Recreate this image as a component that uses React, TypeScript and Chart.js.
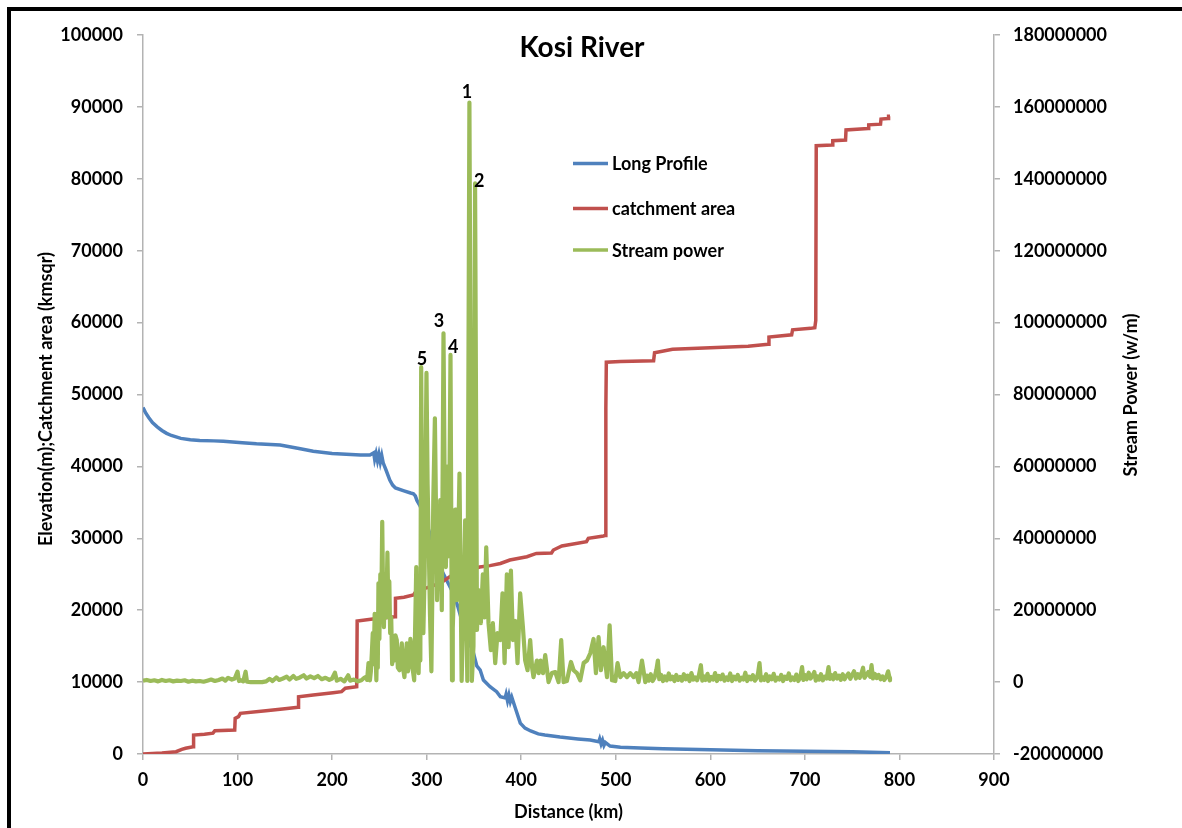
import React, { useEffect, useRef } from "react";
import { Chart, registerables } from "chart.js";

Chart.register(...registerables);

// ---------- DATA ----------
const chartTitle = "Kosi River";
const xAxisTitle = "Distance (km)";
const leftAxisTitle = "Elevation(m);Catchment area (kmsqr)";
const rightAxisTitle = "Stream Power (w/m)";
const seriesNames = ["Long Profile", "catchment area", "Stream power"];

const xTicks = { min: 0, max: 900, step: 100 };
const leftTicks = { min: 0, max: 100000, step: 10000 };
const rightTicks = { min: -20000000, max: 180000000, step: 20000000 };

// Long profile (elevation)
const profileDistance = [
  0, 3, 6, 10, 15, 20, 25, 30, 40, 50, 60, 75, 85, 95, 105, 120, 145, 165, 180, 200, 215, 230, 240,
  244, 245, 246.5, 248, 249.5, 251, 252.5, 254, 257, 261, 264, 267, 276, 283, 286, 288, 289.6,
  293, 296.5, 301, 305.5, 310, 314, 321, 328, 333, 337, 343, 349.5, 353, 356.6, 360, 367, 374, 378,
  383, 384, 385.5, 387, 388.5, 390, 394, 399, 404, 410, 418, 425, 441, 460, 473, 482, 483, 484.5,
  486, 487.5, 489, 494, 505, 526, 550, 600, 650, 700, 750, 790,
];
const profileElevation = [
  48200, 47400, 46800, 46100, 45500, 45000, 44600, 44300, 43900, 43700, 43600, 43550, 43500, 43400,
  43300, 43150, 42980, 42500, 42100, 41800, 41680, 41600, 41600, 41900, 41000, 41800, 40800, 41700,
  40600, 41500, 40500, 39500, 38100, 37400, 37000, 36600, 36300, 36200, 35900, 35300, 34500,
  33500, 31600, 29760, 27900, 26050, 24200, 22400, 20500, 18640, 16300, 14050, 12240, 11680, 10290,
  9360, 8670, 7970, 7800, 8300, 7400, 8200, 7300, 7900, 6300, 4300, 3600, 3200, 2800, 2640, 2360,
  2100, 1950, 1700, 2100, 1400, 1900, 1200, 1600, 1100, 950, 830, 720, 580, 450, 380, 300, 180,
];

// Catchment area
const catchmentDistance = [
  0, 20, 35, 41, 45, 53, 53.5, 65, 74, 76, 97, 97.5, 101, 103, 130, 150, 164, 164.5, 180, 201, 210,
  214, 226, 226.5, 245, 266.7, 267, 276, 286, 289.6, 300, 315, 328, 340, 356, 367, 378, 388, 406,
  416, 432, 434, 443, 469, 471, 487, 489, 489.5, 490, 505, 540, 541, 560, 600, 640, 661, 662, 686,
  687, 706, 710.5, 711.5, 712, 729, 729.5, 743, 743.5, 767, 767.5, 780, 780.5, 788, 788.5, 790,
];
const catchmentArea = [
  0, 150, 320, 650, 800, 1000, 2640, 2750, 2900, 3250, 3340, 4960, 5200, 5660, 6000, 6300, 6500,
  7970, 8200, 8530, 8670, 9150, 9360, 18500, 18800, 19100, 21650, 21800, 22110, 22800, 23100,
  23800, 25000, 25400, 26000, 26200, 26500, 26980, 27440, 27900, 27950, 28370, 28930, 29530, 30000,
  30320, 30400, 48000, 54500, 54600, 54700, 55800, 56300, 56500, 56700, 57000, 58000, 58300, 59000,
  59200, 59300, 60300, 84600, 84700, 85300, 85400, 86800, 87000, 87500, 87600, 88300, 88400, 88700,
  88700,
];

// Stream power (w/m) — distances and values, 10 per line, lines aligned
const powerDistance = [
  0, 4, 8, 12, 16, 20, 24, 28, 32, 36,
  40, 44, 48, 52, 56, 60, 64, 68, 72, 76,
  80, 84, 87, 90, 94, 97, 100, 101.5, 104, 106,
  108.5, 110, 114, 120, 126, 130, 134, 137, 141, 144,
  148, 152, 155, 159, 162, 166, 170, 173, 177, 181,
  185, 189, 193, 197, 200, 203, 205, 209, 213, 217,
  219, 223, 227, 231, 234, 236, 237, 238.5, 240, 241,
  242, 243, 244, 245, 246, 246.8, 247.5, 248.3, 249, 250,
  251, 252, 253, 254, 254.8, 255.5, 256.3, 257.2, 258.5, 259.5,
  260.5, 261.4, 262.5, 263.5, 264.9, 266, 267, 268.4, 269.5, 271.2,
  272.5, 273.7, 275, 276.5, 277.8, 279, 280.2, 281.5, 282.8, 284,
  285.5, 286.8, 287.8, 289, 290.2, 291.5, 292.5, 293.3, 294.2, 295.3,
  296.5, 297.8, 299.8, 301, 302, 303.5, 305, 306, 307, 308.7,
  310, 311, 312.5, 313.4, 314.3, 316, 317.8, 319, 320.3, 321.4,
  322.4, 323.5, 325.2, 326.8, 327.6, 328.5, 330.2, 331, 332, 333.5,
  334.7, 336, 337, 338, 339, 340.7, 342, 343, 345.2, 347.8,
  349.5, 351.2, 353.2, 354.8, 357.3, 359.4, 361.2, 363, 365.4, 367.9,
  370, 372.5, 374.9, 377.8, 380.2, 382.4, 384.8, 386.6, 389.1, 391.2,
  393.7, 396.1, 398.9, 401.8, 404.2, 406.7, 409.5, 411.5, 413, 416.6,
  418.5, 420.5, 423, 425.4, 428.9, 432.4, 436, 439.5, 442.3, 444.8,
  448.3, 452.6, 455.4, 458.9, 462.4, 466, 469.5, 473, 476.5, 479,
  481.8, 484.3, 487.1, 490.7, 493.5, 496, 499.5, 501.9, 504.8, 508.3,
  511.8, 515.3, 518.9, 521.7, 524.1, 527.7, 531.2, 533, 535, 537,
  539, 541, 543, 544.5, 546, 548, 550, 552, 554, 556,
  558, 560, 562, 564, 566, 568, 570, 572, 574, 576,
  578, 580, 582, 584, 586, 588, 590, 591.5, 593, 595,
  597, 599, 601, 603, 605, 607, 609, 611, 613, 615,
  617, 619, 621, 623, 625, 627, 629, 631, 633, 635,
  637, 639, 641, 643, 645, 647, 649, 650.5, 652, 653.5,
  655, 657, 659, 661, 663, 665, 667, 669, 671, 673,
  675, 677, 679, 681, 683, 685, 687, 689, 691, 693,
  695, 697, 698.5, 700, 702, 704, 706, 708, 710, 711.5,
  713, 715, 717, 719, 721, 723, 725, 726.5, 728, 730,
  732, 734, 736, 738, 740, 742, 744, 746, 748, 750,
  752, 754, 756, 758, 760, 761.5, 763, 765, 767, 769,
  770.5, 772, 774, 776, 778, 780, 782, 784, 786, 788,
  789.5, 790,
];
const streamPower = [
  0.4e6, 0.6e6, 0.3e6, 0.5e6, 0.2e6, 0.6e6, 0.3e6, 0.5e6, 0.2e6, 0.4e6,
  0.3e6, 0.5e6, 0.1e6, 0.4e6, 0.2e6, 0.3e6, 0.1e6, 0.4e6, 0.7e6, 0.3e6,
  0.6e6, 1.0e6, 0.4e6, 1.2e6, 0.7e6, 1.0e6, 2.9e6, 0.3e6, 0.5e6, 0.2e6,
  2.9e6, 0.1e6, 0, 0, 0, 0.2e6, 0.9e6, 0.3e6, 1.3e6, 0.6e6,
  1.0e6, 1.5e6, 0.7e6, 1.7e6, 0.9e6, 1.3e6, 1.9e6, 1.0e6, 1.6e6, 1.1e6,
  1.7e6, 0.8e6, 1.2e6, 0.6e6, 1.0e6, 2.6e6, 0.4e6, 0.9e6, 0.2e6, 1.9e6,
  0.4e6, 0.7e6, 0.2e6, 0.5e6, 1.2e6, 1.5e6, 0.6e6, 5.3e6, 0.5e6, 3e6,
  8e6, 13.6e6, 5e6, 19e6, 8e6, 0.5e6, 10e6, 4e6, 27.5e6, 12e6,
  30e6, 20e6, 44.6e6, 22e6, 15.3e6, 26e6, 30e6, 18e6, 36e6, 20e6,
  28e6, 13.6e6, 18e6, 5e6, 8.9e6, 6e6, 13e6, 11.7e6, 4e6, 3.3e6,
  8e6, 10.8e6, 4e6, 1.4e6, 7e6, 10.8e6, 3e6, 4.7e6, 12e6, 9.7e6,
  3e6, 0.5e6, 15e6, 32e6, 10e6, 2.5e6, 18e6, 6e6, 87.6e6, 40e6,
  13.6e6, 30e6, 86e6, 55e6, 41e6, 19e6, 3e6, 25e6, 50.6e6, 73.4e6,
  45e6, 22.8e6, 40e6, 30e6, 50.6e6, 20e6, 97e6, 55e6, 32e6, 45e6,
  60e6, 35e6, 91e6, 0.5e6, 15e6, 22.8e6, 48e6, 30e6, 22.8e6, 40e6,
  58e6, 25e6, 0.3e6, 12e6, 20e6, 45e6, 20e6, 0.3e6, 161.2e6, 0.3e6,
  10e6, 138.7e6, 14.5e6, 25.6e6, 16.4e6, 30e6, 18e6, 37.5e6, 16.4e6, 8.9e6,
  16.4e6, 5.3e6, 13.6e6, 11.7e6, 24.7e6, 5.3e6, 30e6, 9.7e6, 31e6, 11.7e6,
  17e6, 5.3e6, 24.7e6, 15.3e6, 6e6, 3.3e6, 11.7e6, 4e6, 1.4e6, 6e6,
  2.5e6, 6e6, 2.5e6, 7.5e6, 0, 2.5e6, 2.8e6, 0, 11.7e6, 0,
  0.3e6, 5.6e6, 3.3e6, 2.5e6, 0.5e6, 5.3e6, 6e6, 8e6, 12e6, 2.5e6,
  12.5e6, 3.3e6, 9.7e6, 1.4e6, 15.8e6, 0.5e6, 0.3e6, 5.3e6, 1.4e6, 2.5e6,
  1.4e6, 2.5e6, 1.4e6, 2.5e6, 0, 6e6, 0, 1.8e6, 0.4e6, 2.2e6,
  0.3e6, 1.2e6, 3.5e6, 6e6, 0.8e6, 2.0e6, 0.3e6, 1.6e6, 0.5e6, 2.4e6,
  0.8e6, 1.5e6, 0.3e6, 2.0e6, 0.6e6, 1.4e6, 0.4e6, 2.2e6, 0.8e6, 1.8e6,
  0.3e6, 2.5e6, 0.7e6, 1.3e6, 0.5e6, 2.0e6, 4.7e6, 0.4e6, 1.6e6, 0.6e6,
  2.3e6, 0.4e6, 1.4e6, 0.7e6, 2.5e6, 0.3e6, 1.7e6, 0.8e6, 2.1e6, 0.4e6,
  1.3e6, 0.6e6, 2.4e6, 0.3e6, 1.5e6, 0.8e6, 2.0e6, 0.4e6, 1.2e6, 0.7e6,
  2.6e6, 0.3e6, 1.5e6, 0.8e6, 1.9e6, 0.4e6, 1.1e6, 2.5e6, 5.3e6, 0.5e6,
  1.4e6, 0.6e6, 2.2e6, 0.3e6, 1.6e6, 0.8e6, 2.3e6, 0.4e6, 1.2e6, 0.7e6,
  2.0e6, 0.3e6, 1.5e6, 0.9e6, 2.4e6, 0.5e6, 1.3e6, 0.6e6, 2.1e6, 0.3e6,
  1.2e6, 4.2e6, 0.6e6, 2.0e6, 0.8e6, 2.6e6, 1.0e6, 1.8e6, 2.8e6, 0.4e6,
  1.6e6, 0.7e6, 2.2e6, 0.5e6, 1.5e6, 1.0e6, 4.2e6, 0.9e6, 2.0e6, 0.8e6,
  2.5e6, 1.0e6, 1.8e6, 0.6e6, 2.2e6, 0.8e6, 1.7e6, 2.4e6, 0.9e6, 2.0e6,
  3.0e6, 1.0e6, 2.2e6, 1.2e6, 2.6e6, 4.0e6, 1.2e6, 2.0e6, 2.8e6, 1.5e6,
  4.7e6, 1.0e6, 2.3e6, 1.1e6, 2.0e6, 0.8e6, 1.6e6, 0.6e6, 1.4e6, 3.0e6,
  1.2e6, 0.5e6,
];

// Peak annotations (label text and where it sits, in data units of distance / stream power)
const peakLabels = ["1", "2", "3", "4", "5"];
const peakLabelDistance = [342.5, 355.6, 313, 328, 295];
const peakLabelPower = [162.5e6, 137.7e6, 98.8e6, 91.5e6, 88.2e6];

// ---------- STYLE ----------
const BLUE = "#4F81BD";
const RED = "#C0504D";
const GREEN = "#9BBB59";
const AXIS_GRAY = "#B3B3B3";
const FONT = "Lato";

function zip(xs: number[], ys: number[]) {
  const n = Math.min(xs.length, ys.length);
  const out: { x: number; y: number }[] = [];
  for (let i = 0; i < n; i++) out.push({ x: xs[i], y: ys[i] });
  return out;
}

const overlayPlugin = {
  id: "overlay",
  afterDatasetsDraw(chart: any) {
    const { ctx, scales, chartArea } = chart;
    ctx.save();
    ctx.fillStyle = "#000";
    ctx.textBaseline = "alphabetic";
    ctx.textAlign = "center";

    ctx.font = `bold 28px ${FONT}`;
    ctx.fillText(chartTitle, 582, 57);

    ctx.font = `bold 18px ${FONT}`;
    ctx.fillText(xAxisTitle, (chartArea.left + chartArea.right) / 2, 818);

    ctx.textBaseline = "middle";
    ctx.save();
    ctx.translate(46, 399);
    ctx.rotate(-Math.PI / 2);
    ctx.fillText(leftAxisTitle, 0, 0);
    ctx.restore();

    ctx.save();
    ctx.translate(1131, 395);
    ctx.rotate(-Math.PI / 2);
    ctx.fillText(rightAxisTitle, 0, 0);
    ctx.restore();

    // legend
    const colors = [BLUE, RED, GREEN];
    const ly = [163.5, 208.5, 250];
    ctx.textAlign = "left";
    ctx.textBaseline = "alphabetic";
    for (let i = 0; i < seriesNames.length; i++) {
      ctx.strokeStyle = colors[i];
      ctx.lineWidth = 3.5;
      ctx.beginPath();
      ctx.moveTo(573, ly[i]);
      ctx.lineTo(608, ly[i]);
      ctx.stroke();
      ctx.fillText(seriesNames[i], 612, ly[i] + 6.5);
    }

    // peak labels
    ctx.textAlign = "center";
    for (let i = 0; i < peakLabels.length; i++) {
      const px = scales.x.getPixelForValue(peakLabelDistance[i]);
      const py = scales.y1.getPixelForValue(peakLabelPower[i]);
      ctx.fillText(peakLabels[i], px, py);
    }
    ctx.restore();
  },
};

export default function App() {
  const ref = useRef<HTMLCanvasElement | null>(null);

  useEffect(() => {
    if (!ref.current) return;
    const tickFont = { family: FONT, size: 18, weight: "bold" as const };
    const axisGrid = {
      display: true,
      drawOnChartArea: false,
      drawTicks: true,
      tickLength: 6,
      color: AXIS_GRAY,
      lineWidth: 1.5,
    };
    const axisBorder = { display: true, color: AXIS_GRAY, width: 1.5 };
    const chart = new Chart(ref.current, {
      type: "line",
      data: {
        datasets: [
          {
            label: seriesNames[0],
            data: zip(profileDistance, profileElevation),
            borderColor: BLUE,
            backgroundColor: BLUE,
            borderWidth: 3.5,
            pointRadius: 0,
            tension: 0,
            yAxisID: "y",
            order: 3,
          },
          {
            label: seriesNames[1],
            data: zip(catchmentDistance, catchmentArea),
            borderColor: RED,
            backgroundColor: RED,
            borderWidth: 3.5,
            pointRadius: 0,
            tension: 0,
            yAxisID: "y",
            order: 2,
          },
          {
            label: seriesNames[2],
            data: zip(powerDistance, streamPower),
            borderColor: GREEN,
            backgroundColor: GREEN,
            borderWidth: 4.2,
            pointRadius: 0,
            tension: 0,
            borderJoinStyle: "round",
            yAxisID: "y1",
            order: 1,
          },
        ],
      },
      options: {
        responsive: false,
        animation: false,
        devicePixelRatio: 1,
        layout: { padding: { top: 35, left: 0, right: 0, bottom: 0 } },
        plugins: {
          legend: { display: false },
          tooltip: { enabled: false },
          title: { display: false },
        },
        scales: {
          x: {
            type: "linear",
            min: xTicks.min,
            max: xTicks.max,
            afterFit: (s: any) => {
              s.height = 74;
            },
            ticks: {
              stepSize: xTicks.step,
              color: "#000",
              font: tickFont,
              padding: 9,
              maxRotation: 0,
              callback: (v: any) => String(v),
            },
            grid: axisGrid,
            border: axisBorder,
          },
          y: {
            type: "linear",
            position: "left",
            min: leftTicks.min,
            max: leftTicks.max,
            afterFit: (s: any) => {
              s.width = 143;
            },
            ticks: {
              stepSize: leftTicks.step,
              color: "#000",
              font: tickFont,
              padding: 14,
              callback: (v: any) => String(v),
            },
            grid: axisGrid,
            border: axisBorder,
          },
          y1: {
            type: "linear",
            position: "right",
            min: rightTicks.min,
            max: rightTicks.max,
            afterFit: (s: any) => {
              s.width = 188;
            },
            ticks: {
              stepSize: rightTicks.step,
              color: "#000",
              font: tickFont,
              padding: 13,
              callback: (v: any) => String(v),
            },
            grid: axisGrid,
            border: axisBorder,
          },
        },
      },
      plugins: [overlayPlugin],
    });
    return () => chart.destroy();
  }, []);

  return (
    <div
      style={{
        position: "fixed",
        left: 0,
        top: 0,
        width: 1182,
        height: 828,
        overflow: "hidden",
        background: "#fff",
      }}
    >
      <canvas
        ref={ref}
        width={1182}
        height={828}
        style={{ position: "absolute", left: 0, top: 0, width: 1182, height: 828 }}
      />
      <div
        style={{
          position: "absolute",
          left: 7,
          top: 7,
          width: 1200,
          height: 900,
          borderLeft: "4px solid #000",
          borderTop: "4px solid #000",
          pointerEvents: "none",
        }}
      />
    </div>
  );
}
